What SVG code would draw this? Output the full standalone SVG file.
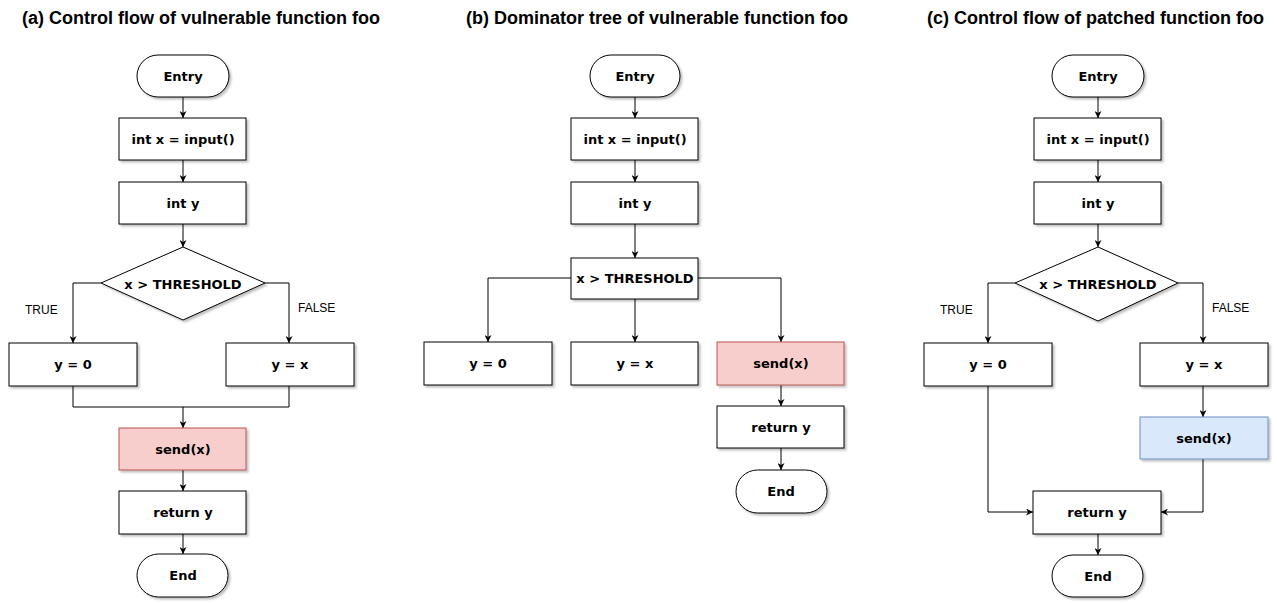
<svg xmlns="http://www.w3.org/2000/svg" width="1277" height="603" viewBox="0 0 1277 603">
<defs>
<marker id="arr" viewBox="0 0 10 10" refX="10" refY="5" markerWidth="7" markerHeight="7" markerUnits="userSpaceOnUse" orient="auto">
<path d="M0,0 L10,5 L0,10 L3,5 Z" fill="#000"/>
</marker>
<filter id="sh" x="-10%" y="-10%" width="130%" height="140%">
<feDropShadow dx="2" dy="2" stdDeviation="0.8" flood-color="#000" flood-opacity="0.25"/>
</filter>
</defs>
<style>
.title{font-family:"Liberation Sans",Arial,sans-serif;font-weight:bold;font-size:18px;fill:#000}
.lbl{font-family:"Liberation Sans",Arial,sans-serif;font-size:12px;fill:#000}
.t{font-family:"DejaVu Sans",Verdana,sans-serif;font-weight:bold;font-size:13px;fill:#000;text-anchor:middle;dominant-baseline:central}
.n{fill:#fff;stroke:#000;stroke-width:1;filter:url(#sh)}
.red{fill:#f8cecc;stroke:#b85450;stroke-width:1;filter:url(#sh)}
.blue{fill:#dae8fc;stroke:#6c8ebf;stroke-width:1;filter:url(#sh)}
.c{fill:none;stroke:#000;stroke-width:1}
.a{marker-end:url(#arr)}
</style>
<rect width="1277" height="603" fill="#fff"/>
<g id="titles">
<text class="title" x="22" y="24">(a) Control flow of vulnerable function foo</text>
<text class="title" x="466" y="24">(b) Dominator tree of vulnerable function foo</text>
<text class="title" x="927" y="24">(c) Control flow of patched function foo</text>
</g>
<g id="connectors">
<!-- panel a -->
<path class="c a" d="M183,97 V118"/>
<path class="c a" d="M183,160 V182"/>
<path class="c a" d="M183,224 V247"/>
<path class="c a" d="M101,283 H73 V343"/>
<path class="c a" d="M265,283 H289 V343"/>
<path class="c" d="M73,386 V407 H289 V386"/>
<path class="c a" d="M183,407 V428"/>
<path class="c a" d="M183,470 V491"/>
<path class="c a" d="M183,534 V554"/>
<!-- panel b -->
<path class="c a" d="M635,97 V118"/>
<path class="c a" d="M635,160 V182"/>
<path class="c a" d="M635,224 V258"/>
<path class="c a" d="M571,278 H488 V342"/>
<path class="c a" d="M635,299 V342"/>
<path class="c a" d="M698,278 H781 V342"/>
<path class="c a" d="M781,385 V406"/>
<path class="c a" d="M781,448 V470"/>
<!-- panel c -->
<path class="c a" d="M1098,97 V118"/>
<path class="c a" d="M1098,160 V182"/>
<path class="c a" d="M1098,224 V247"/>
<path class="c a" d="M1015,283 H988 V343"/>
<path class="c a" d="M1178,283 H1203 V343"/>
<path class="c a" d="M1203,386 V417"/>
<path class="c a" d="M988,386 V512 H1033"/>
<path class="c a" d="M1203,459 V512 H1161"/>
<path class="c a" d="M1098,534 V555"/>
</g>
<g id="labels">
<text class="lbl" x="25" y="314">TRUE</text>
<text class="lbl" x="298" y="312">FALSE</text>
<text class="lbl" x="940" y="314">TRUE</text>
<text class="lbl" x="1212" y="312">FALSE</text>
</g>
<!-- panel a nodes -->
<g id="a-entry"><rect class="n" x="137" y="55" width="92" height="42" rx="21"/><text class="t" x="183" y="76">Entry</text></g>
<g id="a-intx"><rect class="n" x="119" y="118" width="127" height="42"/><text class="t" x="183" y="139">int x = input()</text></g>
<g id="a-inty"><rect class="n" x="119" y="182" width="127" height="42"/><text class="t" x="183" y="203">int y</text></g>
<g id="a-cond"><path class="n" d="M183,247 L265,283 L183,320 L101,283 Z"/><text class="t" x="183" y="284">x &gt; THRESHOLD</text></g>
<g id="a-y0"><rect class="n" x="9" y="343" width="128" height="43"/><text class="t" x="73" y="364">y = 0</text></g>
<g id="a-yx"><rect class="n" x="226" y="343" width="128" height="43"/><text class="t" x="290" y="364">y = x</text></g>
<g id="a-send"><rect class="red" x="119" y="428" width="127" height="42"/><text class="t" x="183" y="449">send(x)</text></g>
<g id="a-ret"><rect class="n" x="119" y="491" width="127" height="43"/><text class="t" x="183" y="512">return y</text></g>
<g id="a-end"><rect class="n" x="137" y="554" width="91" height="43" rx="21.5"/><text class="t" x="183" y="575">End</text></g>
<!-- panel b nodes -->
<g id="b-entry"><rect class="n" x="590" y="55" width="90" height="42" rx="21"/><text class="t" x="635" y="76">Entry</text></g>
<g id="b-intx"><rect class="n" x="571" y="118" width="127" height="42"/><text class="t" x="635" y="139">int x = input()</text></g>
<g id="b-inty"><rect class="n" x="571" y="182" width="127" height="42"/><text class="t" x="635" y="203">int y</text></g>
<g id="b-cond"><rect class="n" x="571" y="258" width="127" height="41"/><text class="t" x="635" y="278">x &gt; THRESHOLD</text></g>
<g id="b-y0"><rect class="n" x="424" y="342" width="128" height="43"/><text class="t" x="488" y="363">y = 0</text></g>
<g id="b-yx"><rect class="n" x="571" y="342" width="127" height="43"/><text class="t" x="635" y="363">y = x</text></g>
<g id="b-send"><rect class="red" x="717" y="342" width="127" height="43"/><text class="t" x="781" y="363">send(x)</text></g>
<g id="b-ret"><rect class="n" x="717" y="406" width="127" height="42"/><text class="t" x="781" y="427">return y</text></g>
<g id="b-end"><rect class="n" x="736" y="470" width="91" height="43" rx="21.5"/><text class="t" x="781" y="491">End</text></g>
<!-- panel c nodes -->
<g id="c-entry"><rect class="n" x="1052" y="55" width="92" height="42" rx="21"/><text class="t" x="1098" y="76">Entry</text></g>
<g id="c-intx"><rect class="n" x="1034" y="118" width="127" height="42"/><text class="t" x="1098" y="139">int x = input()</text></g>
<g id="c-inty"><rect class="n" x="1034" y="182" width="127" height="42"/><text class="t" x="1098" y="203">int y</text></g>
<g id="c-cond"><path class="n" d="M1098,247 L1178,283 L1098,321 L1015,283 Z"/><text class="t" x="1098" y="284">x &gt; THRESHOLD</text></g>
<g id="c-y0"><rect class="n" x="924" y="343" width="128" height="43"/><text class="t" x="988" y="364">y = 0</text></g>
<g id="c-yx"><rect class="n" x="1140" y="343" width="128" height="43"/><text class="t" x="1204" y="364">y = x</text></g>
<g id="c-send"><rect class="blue" x="1140" y="417" width="128" height="42"/><text class="t" x="1204" y="438">send(x)</text></g>
<g id="c-ret"><rect class="n" x="1033" y="491" width="128" height="43"/><text class="t" x="1097" y="512">return y</text></g>
<g id="c-end"><rect class="n" x="1052" y="555" width="91" height="42" rx="21"/><text class="t" x="1098" y="576">End</text></g>
</svg>
